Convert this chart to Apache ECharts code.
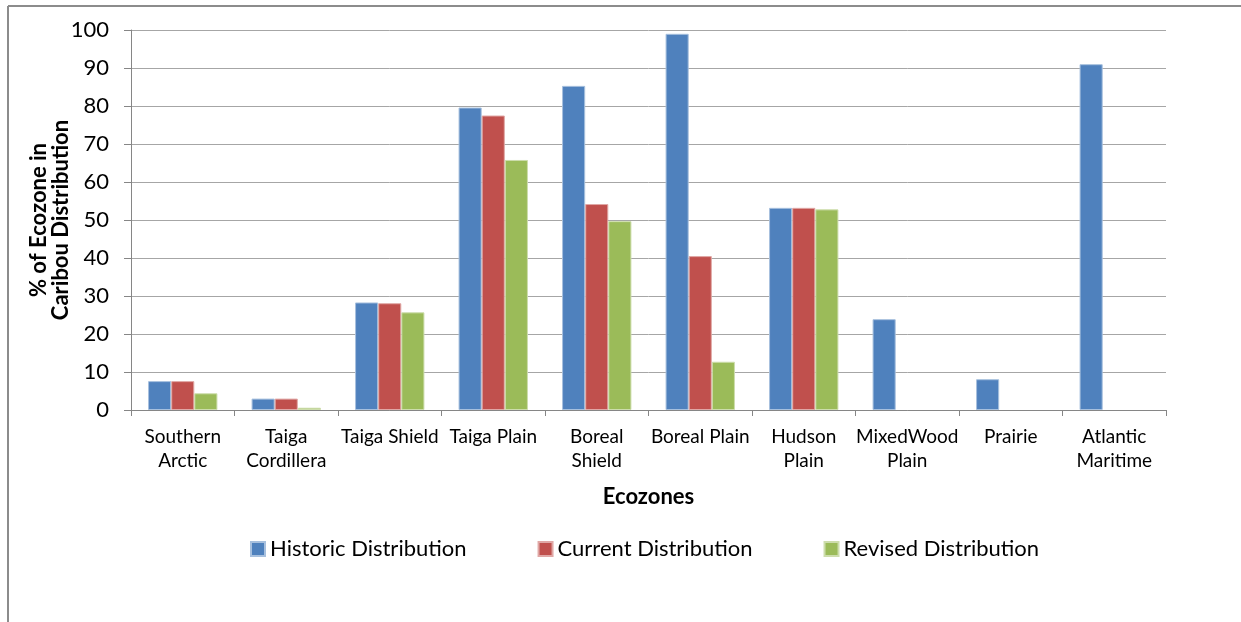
<!DOCTYPE html>
<html><head><meta charset="utf-8">
<script src="https://cdn.jsdelivr.net/npm/echarts@6/dist/echarts.min.js"></script>
<style>html,body{margin:0;padding:0;background:#fff}#c{width:1241px;height:622px}</style>
</head><body><div id="c"></div>
<script>
const categories = ['Southern\nArctic','Taiga\nCordillera','Taiga Shield','Taiga Plain','Boreal\nShield','Boreal Plain','Hudson\nPlain','MixedWood\nPlain','Prairie','Atlantic\nMaritime'];
const historic = [7.6, 3.0, 28.3, 79.6, 85.3, 99.0, 53.2, 23.9, 8.1, 91.0];
const current  = [7.6, 3.0, 28.1, 77.5, 54.2, 40.5, 53.2, null, null, null];
const revised  = [4.4, 0.6, 25.7, 65.8, 49.7, 12.7, 52.8, null, null, null];
const seriesNames = ['Historic Distribution','Current Distribution','Revised Distribution'];
const colors = ['#4F81BD','#C0504D','#9BBB59'];
const edges = ['#A7C0DE','#E0A8A6','#CDDDAC'];

const FONT = 'Lato';
const chart = echarts.init(document.getElementById('c'), null, {renderer:'canvas'});
const dataArr = [historic, current, revised];
chart.setOption({
  animation:false,
  textStyle:{fontFamily:FONT},
  grid:{left:131, right:75, top:30, bottom:212, containLabel:false},
  legend:{
    data:seriesNames, left:245, top:533, itemWidth:14, itemHeight:14, itemGap:71,
    icon:'rect', textStyle:{fontFamily:FONT, fontSize:22, color:'#000'}
  },
  xAxis:{
    type:'category', data:categories,
    name:'Ecozones', nameLocation:'middle', nameGap:76, nameMoveOverlap:false,
    nameTextStyle:{fontFamily:FONT, fontSize:22, fontWeight:'bold', color:'#000'},
    axisLine:{lineStyle:{color:'#868686', width:1}},
    axisTick:{show:true, length:6, lineStyle:{color:'#868686'}},
    axisLabel:{fontFamily:FONT, fontSize:19, color:'#000', margin:15, lineHeight:24, interval:0}
  },
  yAxis:{
    type:'value', min:0, max:100, interval:10,
    name:'% of Ecozone in\nCaribou Distribution', nameLocation:'middle', nameRotate:90, nameGap:59, nameMoveOverlap:false,
    nameTextStyle:{fontFamily:FONT, fontSize:22, fontWeight:'bold', color:'#000', lineHeight:22},
    axisLine:{show:true, lineStyle:{color:'#868686', width:1}},
    axisTick:{show:true, length:7, lineStyle:{color:'#868686'}},
    axisLabel:{fontFamily:FONT, fontSize:22, color:'#000', margin:22},
    splitLine:{lineStyle:{color:'#A6A6A6', width:1}}
  },
  series: seriesNames.map((n,i)=>({
    name:n, type:'bar', data:dataArr[i], barGap:'0%', barCategoryGap:'33%',
    itemStyle:{color:colors[i], borderColor:edges[i], borderWidth:1}
  })),
  graphic:[
    {type:'line', shape:{x1:8, y1:6, x2:8, y2:622}, style:{stroke:'#8C8C8C', lineWidth:2}},
    {type:'line', shape:{x1:8, y1:6, x2:1241, y2:6}, style:{stroke:'#8C8C8C', lineWidth:2}}
  ]
});
</script></body></html>
